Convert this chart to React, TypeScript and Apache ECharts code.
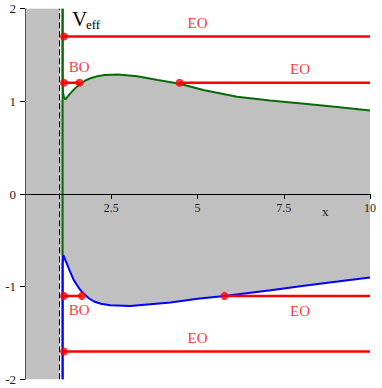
import React, { useEffect, useRef } from "react";
import * as echarts from "echarts";

// Effective potential curves
const upperX = [1.09, 1.09, 1.1, 1.13, 1.17, 1.3, 1.45, 1.6, 1.75, 1.9, 2.1, 2.3, 2.7, 3.25, 3.85, 4.48, 5.2, 6.15, 7.1, 8.1, 9.05, 10];
const upperY = [2.0, 1.3, 1.1, 1.04, 1.02, 1.08, 1.14, 1.19, 1.225, 1.25, 1.272, 1.285, 1.29, 1.27, 1.23, 1.19, 1.12, 1.05, 1.01, 0.975, 0.94, 0.9];
const lowerX = [1.09, 1.09, 1.11, 1.2, 1.31, 1.4, 1.5, 1.6, 1.7, 1.85, 2.0, 2.2, 2.47, 3.05, 3.63, 4.22, 5.0, 5.78, 7.12, 8.09, 9.06, 10];
const lowerY = [-2, -0.75, -0.66, -0.74, -0.84, -0.92, -0.98, -1.035, -1.075, -1.125, -1.16, -1.185, -1.2, -1.21, -1.19, -1.17, -1.13, -1.1, -1.04, -0.99, -0.945, -0.9];
const upperMinIdx = 4;
const lowerPeakIdx = 2;
const greenVX = [1.09, 1.09];
const greenVY = [-2, 2];
const dashX = 1.0;

// Orbit levels
const levelStartX = [1.13, 1.13, 4.48, 1.13, 5.78, 1.13];
const levelEndX = [10, 1.58, 10, 1.65, 10, 10];
const levelY = [1.7, 1.2, 1.2, -1.1, -1.1, -1.7];
const dotX = [1.13, 1.13, 1.58, 4.48, 1.13, 1.65, 5.78, 1.13];
const dotY = [1.7, 1.2, 1.2, 1.2, -1.1, -1.1, -1.1, -1.7];

// Labels
const labelText = ["EO", "BO", "EO", "BO", "EO", "EO"];
const labelX = [5.0, 1.57, 7.97, 1.57, 7.97, 5.0];
const labelY = [1.85, 1.37, 1.35, -1.25, -1.26, -1.55];

const xTicks = { min: 0, max: 10, interval: 2.5 };
const yTicks = { min: -2, max: 2, interval: 1 };

const FONT = "Liberation Serif";
const W = 382;
const H = 388;
const GRID = { left: 25, right: 12, top: 8.7, bottom: 8.7 };

export default function App() {
  const ref = useRef<HTMLDivElement>(null);
  useEffect(() => {
    document.body.style.margin = "0";
    const chart = echarts.init(ref.current!, undefined, { renderer: "svg" });
    const polyData: number[][] = [];
    polyData.push([dashX, upperY[upperMinIdx]]);
    for (let i = upperMinIdx; i < upperX.length; i++) polyData.push([upperX[i], upperY[i]]);
    for (let i = lowerX.length - 1; i >= lowerPeakIdx; i--) polyData.push([lowerX[i], lowerY[i]]);
    polyData.push([dashX, lowerY[lowerPeakIdx]]);
    const rectData = [
      [xTicks.min, yTicks.min],
      [xTicks.min, yTicks.max],
      [dashX, yTicks.max],
      [dashX, yTicks.min],
    ];
    const gridH = H - GRID.top - GRID.bottom;
    const zeroFrac = (yTicks.max - 0) / (yTicks.max - yTicks.min);
    const xAxisOffset = -(gridH * (1 - zeroFrac));

    const series: any[] = [
      {
        type: "custom",
        z: 1,
        silent: true,
        data: [[0, 0]],
        renderItem: (_p: any, api: any) => ({
          type: "group",
          children: [
            {
              type: "polygon",
              shape: { points: rectData.map((d) => api.coord(d)) },
              style: { fill: "#c0c0c0" },
            },
            {
              type: "polygon",
              shape: { points: polyData.map((d) => api.coord(d)) },
              style: { fill: "#c0c0c0" },
            },
          ],
        }),
      },
      {
        type: "line",
        z: 3,
        data: [
          [dashX, yTicks.min],
          [dashX, yTicks.max],
        ],
        showSymbol: false,
        lineStyle: { color: "#000", width: 1, type: [6, 3] },
      },
      {
        type: "line",
        z: 3,
        data: greenVX.map((x, i) => [x, greenVY[i]]),
        showSymbol: false,
        lineStyle: { color: "#0a6a0a", width: 2 },
      },
      {
        type: "line",
        z: 3,
        data: upperX.map((x, i) => [x, upperY[i]]),
        showSymbol: false,
        lineStyle: { color: "#0a6a0a", width: 2 },
      },
      {
        type: "line",
        z: 4,
        data: lowerX.map((x, i) => [x, lowerY[i]]),
        showSymbol: false,
        lineStyle: { color: "#0000ff", width: 2 },
      },
    ];
    levelY.forEach((y, i) => {
      series.push({
        type: "line",
        z: 5,
        data: [
          [levelStartX[i], y],
          [levelEndX[i], y],
        ],
        showSymbol: false,
        lineStyle: { color: "#ff0000", width: 2.5 },
      });
    });
    series.push({
      type: "scatter",
      z: 6,
      symbolSize: 8,
      itemStyle: { color: "#ff0000" },
      data: dotX.map((x, i) => [x, dotY[i]]),
    });
    series.push({
      type: "scatter",
      z: 6,
      symbolSize: 1,
      itemStyle: { color: "rgba(0,0,0,0)" },
      data: labelX.map((x, i) => ({ value: [x, labelY[i]], name: labelText[i] })),
      label: {
        show: true,
        position: "inside",
        formatter: (p: any) => p.name,
        color: "#ff0000",
        fontFamily: FONT,
        fontSize: 15,
      },
    });

    chart.setOption({
      animation: false,
      grid: { ...GRID, containLabel: false, outerBoundsMode: "none" },
      xAxis: {
        type: "value",
        ...xTicks,
        z: 10,
        position: "bottom",
        offset: xAxisOffset,
        axisLine: { onZero: false, lineStyle: { color: "#000", width: 1 } },
        axisTick: { show: true, length: 5, lineStyle: { color: "#000" } },
        axisLabel: {
          showMinLabel: false,
          color: "#222",
          fontFamily: FONT,
          fontSize: 12,
          margin: 8,
        },
        splitLine: { show: false },
      },
      yAxis: {
        type: "value",
        ...yTicks,
        z: 10,
        axisLine: { show: true, onZero: false, lineStyle: { color: "#555", width: 1 } },
        axisTick: { show: true, length: 5, lineStyle: { color: "#000" } },
        axisLabel: { color: "#222", fontFamily: FONT, fontSize: 13, margin: 9 },
        splitLine: { show: false },
      },
      graphic: [
        {
          type: "text",
          left: 72,
          top: 8,
          z: 20,
          style: { text: "V", font: `21px '${FONT}'`, fill: "#000" },
        },
        {
          type: "text",
          left: 86,
          top: 18,
          z: 20,
          style: { text: "eff", font: `13px '${FONT}'`, fill: "#000" },
        },
        {
          type: "text",
          left: 322,
          top: 205,
          z: 20,
          style: { text: "x", font: `13px '${FONT}'`, fill: "#222" },
        },
      ],
      series,
    });
    return () => chart.dispose();
  }, []);
  return <div ref={ref} style={{ width: W, height: H }} />;
}
